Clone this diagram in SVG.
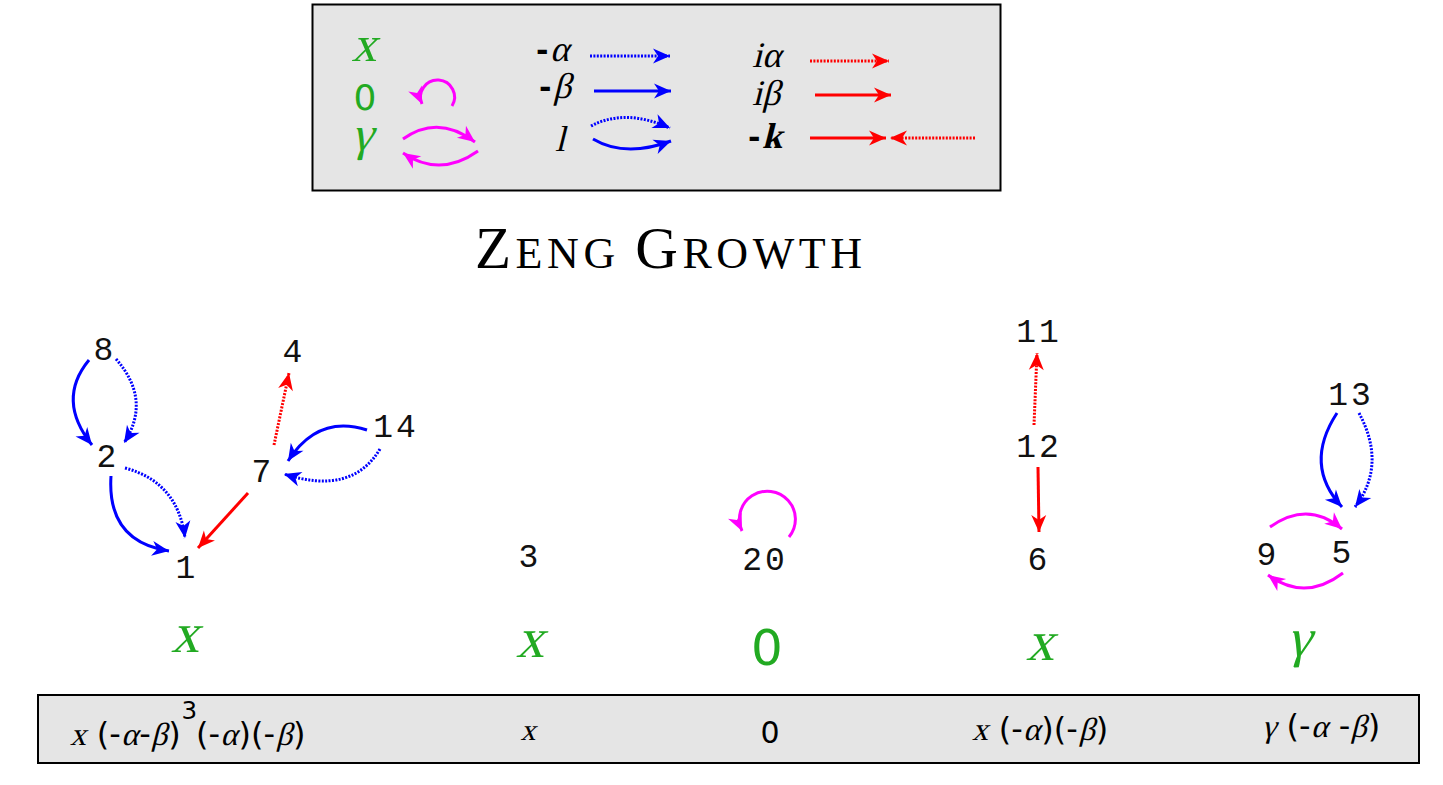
<svg xmlns="http://www.w3.org/2000/svg" width="1443" height="785" viewBox="0 0 1443 785">
<style>
.box{fill:#e5e5e5;stroke:#000;stroke-width:2}
.node{font-family:"Liberation Mono",monospace;font-size:33px;letter-spacing:3px;fill:#111;text-anchor:middle}
.ms{font-family:"Liberation Serif",serif;font-style:normal}
.sans{font-family:"DejaVu Sans",sans-serif;font-style:normal}
.grn{fill:#22aa22}
.mid{text-anchor:middle}
.e{fill:none;stroke-width:3}
.b{stroke:#0000ff;marker-end:url(#ab)}
.r{stroke:#ff0000;marker-end:url(#ar)}
.m{stroke:#ff00ff;marker-end:url(#am)}
.d{stroke-dasharray:2 1.4}
.lt{font-size:36px;fill:#000}
.bt{font-size:30px;fill:#000}
</style>
<defs>
<marker id="ab" viewBox="-19 -9 20 18" refX="0" refY="0" markerWidth="20" markerHeight="18" markerUnits="userSpaceOnUse" orient="auto"><path d="M0,0 L-17,-7.5 L-12,0 L-17,7.5 Z" fill="#0000ff"/></marker>
<marker id="ar" viewBox="-19 -9 20 18" refX="0" refY="0" markerWidth="20" markerHeight="18" markerUnits="userSpaceOnUse" orient="auto"><path d="M0,0 L-17,-7.5 L-12,0 L-17,7.5 Z" fill="#ff0000"/></marker>
<marker id="am" viewBox="-19 -9 20 18" refX="0" refY="0" markerWidth="20" markerHeight="18" markerUnits="userSpaceOnUse" orient="auto"><path d="M0,0 L-17,-7.5 L-12,0 L-17,7.5 Z" fill="#ff00ff"/></marker>
</defs>
<rect width="1443" height="785" fill="#fff"/>

<g id="legend">
<rect class="box" x="312.5" y="4.5" width="688" height="186"/>
<g transform="translate(364,61) skewX(-14)"><text class="ms grn mid" font-size="50">x</text></g>
<text class="sans grn mid" x="365" y="110" font-size="36">0</text>
<g transform="translate(362,150) skewX(-14)"><text class="ms grn mid" font-size="48">γ</text></g>
<path class="e m" d="M452,106 A17,17 0 1 0 422,104"/>
<path class="e m" d="M403,139 Q438,114 475,142"/>
<path class="e m" d="M478,151 Q440,178 403,153"/>
<text class="sans" x="536" y="61" font-size="30" font-weight="bold">-</text>
<g transform="translate(550,61) skewX(-14)"><text class="ms lt">α</text></g>
<path class="e b d" d="M590,56 L670,56"/>
<text class="sans" x="539" y="98" font-size="30" font-weight="bold">-</text>
<g transform="translate(553,98) skewX(-14)"><text class="ms lt">β</text></g>
<path class="e b" d="M594,91 L671,91"/>
<g transform="translate(560,151) skewX(-14)"><text class="ms lt mid">l</text></g>
<path class="e b d" d="M591,126 Q625,108 670,128"/>
<path class="e b" d="M593,139 Q625,158 671,141"/>
<g transform="translate(752,67) skewX(-14)"><text class="ms lt">iα</text></g>
<path class="e r d" d="M810,61 L889,61"/>
<g transform="translate(752,105) skewX(-14)"><text class="ms lt">iβ</text></g>
<path class="e r" d="M815,95 L891,95"/>
<text class="sans" x="748" y="148" font-size="30" font-weight="bold">-</text>
<g transform="translate(762,148) skewX(-14)"><text class="ms lt" font-weight="bold">k</text></g>
<path class="e r" d="M810,138 L886,138"/>
<path class="e r d" d="M975,138 L890,138"/>
</g>

<text id="title" x="475" y="268" font-family="Liberation Serif,serif" fill="#000" textLength="387" lengthAdjust="spacing"><tspan font-size="59">Z</tspan><tspan font-size="44">ENG </tspan><tspan font-size="59">G</tspan><tspan font-size="44">ROWTH</tspan></text>

<g id="connectors">
<path class="e b" d="M89,360 Q56,400 92,445"/>
<path class="e b d" d="M116,359 Q152,400 124,443"/>
<path class="e b" d="M111,476 C108,522 130,545 169,551"/>
<path class="e b d" d="M125,468 Q178,482 185,538"/>
<path class="e r" d="M248,493 L198,548"/>
<path class="e r d" d="M274,445 L289,373"/>
<path class="e b" d="M367,430 Q318,414 288,461"/>
<path class="e b d" d="M380,449 Q352,496 284,474"/>
<path class="e m" d="M789,537 A28,28 0 1 0 742,531"/>
<path class="e r d" d="M1034,425 L1037,353"/>
<path class="e r" d="M1038,467 L1039,532"/>
<path class="e b" d="M1337,413 Q1303,465 1342,507"/>
<path class="e b d" d="M1359,413 Q1387,465 1355,507"/>
<path class="e m" d="M1270,527 Q1308,500 1342,529"/>
<path class="e m" d="M1343,573 Q1305,602 1268,575"/>
</g>

<g id="n8"><text class="node" x="105" y="360">8</text></g>
<g id="n2"><text class="node" x="108" y="467">2</text></g>
<g id="n1"><text class="node" x="187" y="578">1</text></g>
<g id="n4"><text class="node" x="294" y="362">4</text></g>
<g id="n7"><text class="node" x="263" y="482">7</text></g>
<g id="n14"><text class="node" x="396" y="437">14</text></g>
<g id="n3"><text class="node" x="530" y="567">3</text></g>
<g id="n20"><text class="node" x="765" y="570">20</text></g>
<g id="n11"><text class="node" x="1039" y="342">11</text></g>
<g id="n12"><text class="node" x="1039" y="457">12</text></g>
<g id="n6"><text class="node" x="1039" y="570">6</text></g>
<g id="n13"><text class="node" x="1351" y="405">13</text></g>
<g id="n9"><text class="node" x="1268" y="565">9</text></g>
<g id="n5"><text class="node" x="1343" y="563">5</text></g>

<g id="categories">
<g transform="translate(185,652) skewX(-14)"><text class="ms grn mid" font-size="56">x</text></g>
<g transform="translate(530,657) skewX(-14)"><text class="ms grn mid" font-size="56">x</text></g>
<text class="sans grn mid" x="767" y="665" font-size="50">0</text>
<g transform="translate(1040,660) skewX(-14)"><text class="ms grn mid" font-size="56">x</text></g>
<g transform="translate(1299,656) skewX(-14)"><text class="ms grn mid" font-size="54">γ</text></g>
</g>

<g id="summary">
<rect class="box" x="38" y="695" width="1381" height="68"/>
<g transform="translate(70,745) scale(1.067)">
<text class="sans bt" x="25 36.7 65 92" y="0">(--)</text>
<text class="sans bt" x="118 129.7 158 169.7 181.4 209" y="0">(-)(-)</text>
<text class="sans" x="104.5" y="-24" font-size="23">3</text>
<g transform="skewX(-14)"><text class="ms bt">x</text></g>
<g transform="translate(48,0) skewX(-14)"><text class="ms bt">α</text></g>
<g transform="translate(76,0) skewX(-14)"><text class="ms bt">β</text></g>
<g transform="translate(141,0) skewX(-14)"><text class="ms bt">α</text></g>
<g transform="translate(193,0) skewX(-14)"><text class="ms bt">β</text></g>
</g>
<g transform="translate(528,740) skewX(-14)"><text class="ms bt mid">x</text></g>
<text class="sans bt mid" x="770" y="743">0</text>
<g transform="translate(972,740) scale(1.067)">
<text class="sans bt" x="25 36.7 65 76.7 88.4 116" y="0">(-)(-)</text>
<g transform="skewX(-14)"><text class="ms bt">x</text></g>
<g transform="translate(48,0) skewX(-14)"><text class="ms bt">α</text></g>
<g transform="translate(100,0) skewX(-14)"><text class="ms bt">β</text></g>
</g>
<g transform="translate(1262,737) scale(1.067)">
<text class="sans bt" x="23 34.7 72 99" y="0">(--)</text>
<g transform="skewX(-14)"><text class="ms bt">γ</text></g>
<g transform="translate(46,0) skewX(-14)"><text class="ms bt">α</text></g>
<g transform="translate(83,0) skewX(-14)"><text class="ms bt">β</text></g>
</g>
</g>
</svg>
